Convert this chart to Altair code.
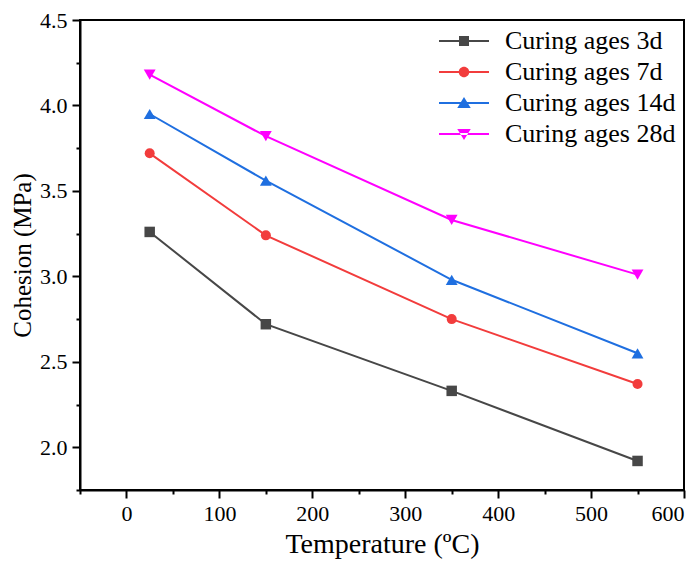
import altair as alt
import pandas as pd

temps = [25, 150, 350, 550]
series = ["Curing ages 3d", "Curing ages 7d", "Curing ages 14d", "Curing ages 28d"]
cohesion_3d = [3.26, 2.72, 2.33, 1.92]
cohesion_7d = [3.72, 3.24, 2.75, 2.37]
cohesion_14d = [3.95, 3.56, 2.98, 2.55]
cohesion_28d = [4.18, 3.82, 3.33, 3.01]
colors = ["#474747", "#f23c3c", "#1f6fe0", "#ff00ff"]
marker_shapes = ["square", "circle", "triangle-up", "triangle-down"]

x_major = [0, 100, 200, 300, 400, 500, 600]
x_minor = [-50, 50, 150, 250, 350, 450, 550]
y_major = [2.0, 2.5, 3.0, 3.5, 4.0, 4.5]
y_minor = [1.75, 2.25, 2.75, 3.25, 3.75, 4.25]

rows = []
for s, vals in zip(series, [cohesion_3d, cohesion_7d, cohesion_14d, cohesion_28d]):
    for t, v in zip(temps, vals):
        rows.append({"series": s, "temp": t, "cohesion": v})
df = pd.DataFrame(rows)

FONT = "'Liberation Serif', 'Times New Roman', serif"

xs = alt.Scale(domain=[-50, 600], nice=False, zero=False)
ys = alt.Scale(domain=[1.75, 4.5], nice=False, zero=False)
cs = alt.Scale(domain=series, range=colors)

x_axis = alt.Axis(values=x_major, title="Temperature (ºC)", tickSize=8,
                  labelPadding=5, titleFontSize=28, titlePadding=6)
y_axis = alt.Axis(values=y_major, title="Cohesion (MPa)", tickSize=8,
                  labelPadding=5, format=".1f", titleFontSize=25, titlePadding=4)

X = alt.X("temp:Q", scale=xs, axis=x_axis)
Y = alt.Y("cohesion:Q", scale=ys, axis=y_axis)

base = alt.Chart(df)

layers = []
for s, col in zip(series, colors):
    layers.append(
        base.transform_filter(alt.datum.series == s)
        .mark_line(strokeWidth=2, color=col)
        .encode(x=X, y=Y)
    )
sizes = [110, 100, 140, 140]
for s, col, shp, sz in zip(series, colors, marker_shapes, sizes):
    layers.append(
        base.transform_filter(alt.datum.series == s)
        .mark_point(shape=shp, filled=True, opacity=1, size=sz, color=col)
        .encode(x=X, y=Y)
    )

# legend symbols: line + marker paths (r = sqrt(size)/2 = 5)
legend_paths = [
    "M-1,-0.22H9V0.22H-1Z M3,-1H5V1H3Z",
    "M-1,-0.22H9V0.22H-1Z M5.05,0A1.05,1.05 0 1,1 2.95,0A1.05,1.05 0 1,1 5.05,0Z",
    "M-1,-0.22H9V0.22H-1Z M4,-1.2L5.35,1L2.65,1Z",
    "M-1,-0.22H9V0.22H-1Z M4,1.2L5.35,-1L2.65,-1Z",
]
legend_layer = base.transform_filter("false").mark_point(filled=True, opacity=1, size=100,
                                                         strokeWidth=0).encode(
    x=X,
    y=Y,
    color=alt.Color("series:N", scale=cs, title=None,
                    legend=alt.Legend(orient="none", legendX=351, legendY=8,
                                      labelFont=FONT, labelFontSize=26, labelColor="black",
                                      labelOffset=48, labelLimit=400, rowPadding=5,
                                      symbolStrokeWidth=0, symbolOpacity=1)),
    shape=alt.Shape("series:N", scale=alt.Scale(domain=series, range=legend_paths), title=None),
)
layers.append(legend_layer)

main = alt.layer(*layers)

# minor ticks (shared scale, independent axis)
minor = base.mark_point(opacity=0).encode(
    x=alt.X("temp:Q", scale=xs, axis=alt.Axis(values=x_minor, orient="bottom", labels=False,
                                                 title=None, domain=False, tickSize=4)),
    y=alt.Y("cohesion:Q", scale=ys, axis=alt.Axis(values=y_minor, orient="left", labels=False,
                                                     title=None, domain=False, tickSize=4)),
)

chart = alt.layer(main, minor).resolve_axis(x="independent", y="independent").properties(
    width=604, height=470,
    background="white",
    autosize=alt.AutoSizeParams(type="none"),
    padding={"left": 72, "top": 12, "right": 5, "bottom": 73},
).configure_view(stroke="black", strokeWidth=2).configure_axis(
    grid=False, domainWidth=2, domainColor="black", tickWidth=2, tickColor="black",
    labelFont=FONT, labelFontSize=22, labelColor="black",
    titleFont=FONT, titleFontWeight="normal", titleColor="black",
).configure_legend(labelFont=FONT)

chart.save("out.html", embed_options={"renderer": "svg", "actions": False})
